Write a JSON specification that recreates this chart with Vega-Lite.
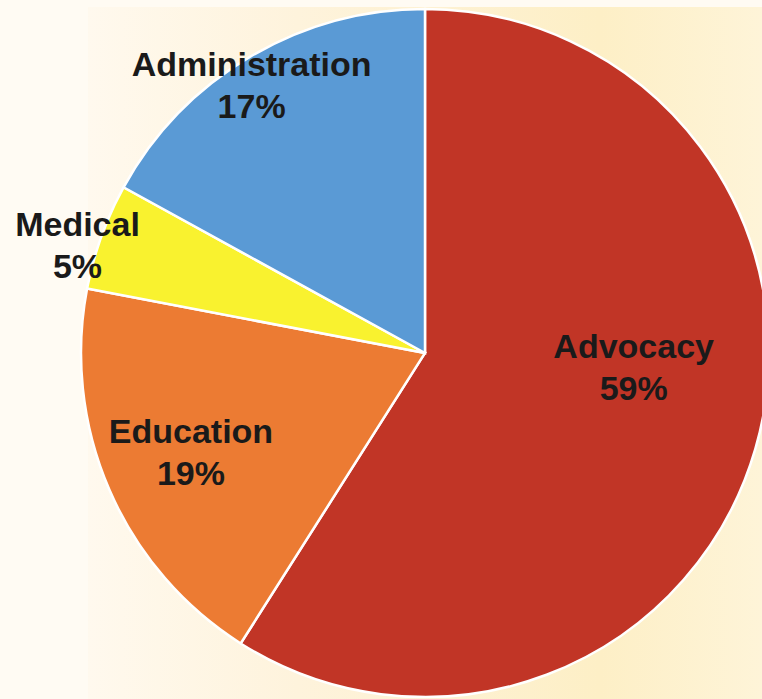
{
  "$schema": "https://vega.github.io/schema/vega-lite/v6.json",
  "width": 674,
  "height": 692,
  "autosize": {"type": "none"},
  "padding": {"left": 88, "top": 7, "right": 0, "bottom": 0},
  "background": "#fffbf3",
  "config": {"view": {"stroke": null}},
  "datasets": {
    "spend": [
      {"category": "Advocacy", "value": 59, "rank": 1, "label": "Advocacy\n59%"},
      {"category": "Education", "value": 19, "rank": 2, "label": "Education\n19%"},
      {"category": "Medical", "value": 5, "rank": 3, "label": "Medical\n5%"},
      {"category": "Administration", "value": 17, "rank": 4, "label": "Administration\n17%"}
    ]
  },
  "layer": [
    {
      "data": {"values": [{}]},
      "mark": {
        "type": "rect",
        "fill": {
          "gradient": "linear", "x1": 0, "y1": 0, "x2": 1, "y2": 0,
          "stops": [
            {"offset": 0, "color": "#fff9ee"},
            {"offset": 0.31, "color": "#fef3dc"},
            {"offset": 0.76, "color": "#fdefc6"},
            {"offset": 1, "color": "#fef4d8"}
          ]
        },
        "strokeWidth": 0
      },
      "encoding": {}
    },
    {
      "data": {"name": "spend"},
      "mark": {"type": "arc", "radius": 344, "stroke": "#ffffff", "strokeWidth": 2.5},
      "encoding": {
        "theta": {"field": "value", "type": "quantitative", "stack": true},
        "order": {"field": "rank", "type": "quantitative"},
        "color": {
          "field": "category",
          "type": "nominal",
          "scale": {
            "domain": ["Advocacy", "Education", "Medical", "Administration"],
            "range": ["#c13526", "#ec7b33", "#f9f22f", "#5a9ad5"]
          },
          "legend": null
        }
      }
    },
    {
      "data": {"name": "spend"},
      "mark": {
        "type": "text",
        "font": "Liberation Sans",
        "fontWeight": "bold",
        "fontSize": 34,
        "lineHeight": 42,
        "lineBreak": "\n",
        "align": "center",
        "baseline": "middle",
        "fill": "#1a1a1a",
        "radius": {"expr": "datum.category === 'Advocacy' ? 210 : datum.category === 'Education' ? 255 : datum.category === 'Medical' ? 364 : 319"},
        "dx": {"expr": "datum.category === 'Advocacy' ? 7 : datum.category === 'Education' ? 0 : datum.category === 'Medical' ? -5 : -11"},
        "dy": {"expr": "datum.category === 'Advocacy' ? -64 : datum.category === 'Education' ? -21 : datum.category === 'Medical' ? -4 : -12"}
      },
      "encoding": {
        "theta": {"field": "value", "type": "quantitative", "stack": true},
        "order": {"field": "rank", "type": "quantitative"},
        "detail": {"field": "category", "type": "nominal"},
        "text": {"field": "label", "type": "nominal"}
      }
    }
  ]
}
